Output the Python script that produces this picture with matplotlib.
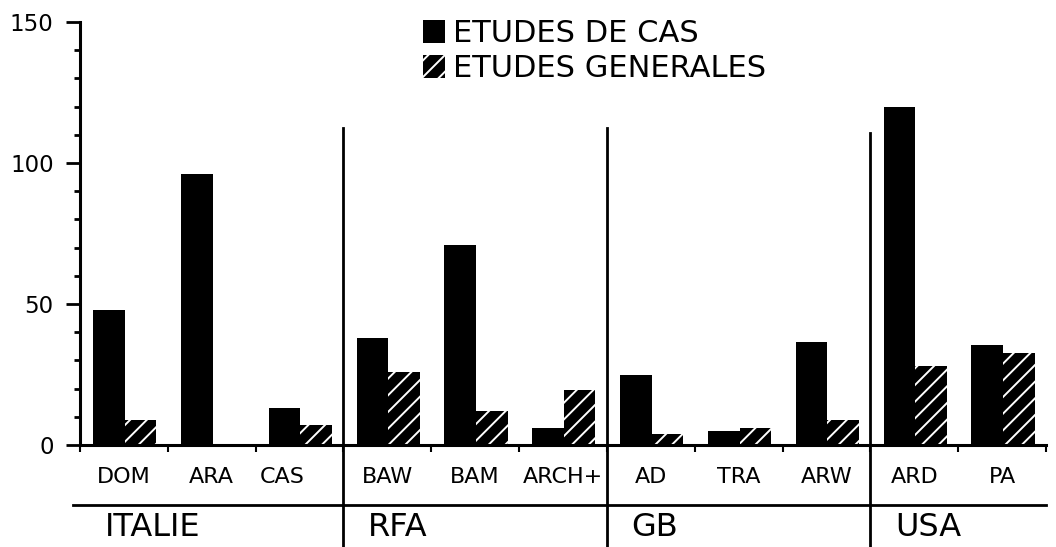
import matplotlib
matplotlib.use("Agg")
import matplotlib.pyplot as plt
from matplotlib.lines import Line2D
from matplotlib.ticker import MultipleLocator

# ---- data ----
categories = ["DOM", "ARA", "CAS", "BAW", "BAM", "ARCH+", "AD", "TRA", "ARW", "ARD", "PA"]
etudes_cas = [48, 96, 13, 38, 71, 6, 25, 5, 36.5, 120, 35.5]
etudes_generales = [9, 0, 7, 26, 12, 19.5, 4, 6, 9, 28, 32.5]
groups = ["ITALIE", "RFA", "GB", "USA"]
group_sizes = [3, 3, 3, 2]
series_labels = ["ETUDES DE CAS", "ETUDES GENERALES"]
y_ticks = [0, 50, 100, 150]

plt.rcParams['hatch.linewidth'] = 1.4
plt.rcParams['font.family'] = ['DejaVu Sans']

fig = plt.figure(figsize=(10.56, 5.47), dpi=100)
ax = fig.add_axes([80/1056, 1-445/547, (1046-80)/1056, (445-22)/547])

n = len(categories)
w = 0.36
x0 = [i + 0.15 for i in range(n)]
b1 = ax.bar(x0, etudes_cas, width=w, align='edge', color='black', linewidth=0,
            label=series_labels[0])
b2 = ax.bar([x + w for x in x0], etudes_generales, width=w, align='edge', color='black',
            edgecolor='white', hatch='//', linewidth=0, label=series_labels[1])

ax.set_xlim(0, n)
ax.set_ylim(0, 150)
for s in ['top', 'right']:
    ax.spines[s].set_visible(False)
ax.spines['left'].set_linewidth(2.2)
ax.spines['bottom'].set_linewidth(2.2)

ax.set_yticks(y_ticks)
ax.yaxis.set_minor_locator(MultipleLocator(10))
ax.tick_params(axis='y', which='major', length=10, width=2, pad=9, labelsize=16.5)
ax.tick_params(axis='y', which='minor', length=4, width=2)
ax.set_xticks(list(range(0, n + 1)))
ax.set_xticklabels([])
ax.tick_params(axis='x', which='major', length=5, width=1.5)

# category labels
nudges = {"CAS": -0.2}
for i, c in enumerate(categories):
    ax.text(i + 0.5 + nudges.get(c, 0), -0.076, c, transform=ax.get_xaxis_transform(),
            ha='center', va='center', fontsize=16, clip_on=False)

# separators and group labels
start = 0
for g, size in zip(groups, group_sizes):
    ax.text(start + 0.28, -0.196, g, transform=ax.get_xaxis_transform(),
            ha='left', va='center', fontsize=23, clip_on=False)
    if start > 0:
        top = 112.5 if start < 9 else 110.5
        ax.add_line(Line2D([start, start], [top, -37], color='black', lw=2, clip_on=False))
    start += size

ax.add_line(Line2D([-0.08, n], [-60/2.82, -60/2.82], color='black', lw=2, clip_on=False))

fig.legend(handles=[b1, b2], labels=series_labels, loc='upper left',
           bbox_to_anchor=(423/1056, 1-19/547), frameon=False, fontsize=22,
           handlelength=0.72, handleheight=0.75, handletextpad=0.25,
           labelspacing=0.2, borderpad=0, borderaxespad=0)

fig.savefig("out.png", dpi=100)
